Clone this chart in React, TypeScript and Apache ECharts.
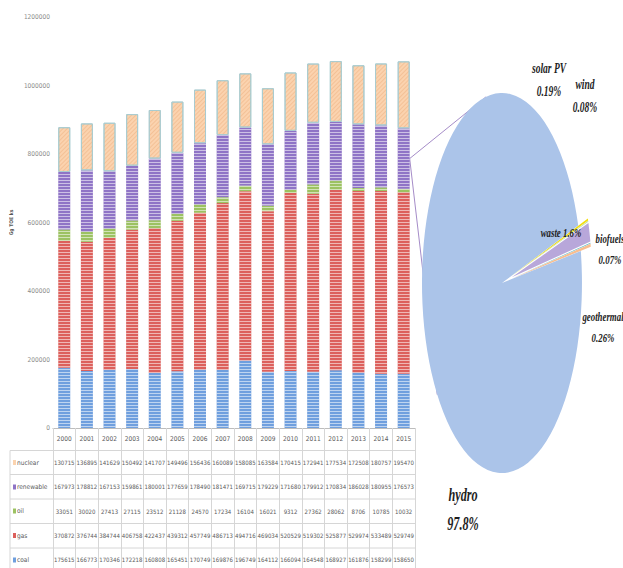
import { useEffect, useRef } from 'react';
import * as echarts from 'echarts';

// Annual primary energy supply by source (stacked bars + data table)
const years = ['2000', '2001', '2002', '2003', '2004', '2005', '2006', '2007', '2008', '2009', '2010', '2011', '2012', '2013', '2014', '2015'];
const nuclear = [130715, 136895, 141629, 150492, 141707, 149496, 156436, 160089, 158085, 163584, 170415, 172941, 177534, 172508, 180757, 195470];
const renewable = [167973, 178812, 167153, 159861, 180001, 177659, 178490, 181471, 169715, 179229, 171680, 179912, 170834, 186028, 180955, 176573];
const oil = [33051, 30020, 27413, 27115, 23512, 21128, 24570, 17234, 16104, 16021, 9312, 27362, 28062, 8706, 10785, 10032];
const gas = [370872, 376744, 384744, 406758, 422437, 439312, 457749, 486713, 494716, 469034, 520529, 519302, 525877, 529974, 533489, 529749];
const coal = [175615, 166773, 170346, 172218, 160808, 165451, 170749, 169876, 196749, 164112, 166094, 164548, 168927, 161876, 158299, 158650];

// Breakdown of the renewable share (%)
const pieNames = ['solar PV', 'wind', 'waste', 'biofuels', 'geothermal', 'hydro'];
const pieShares = [0.19, 0.08, 1.6, 0.07, 0.26, 97.8];

const yTicks = { min: 0, max: 1200000, interval: 200000 };

const COLORS = {
  coal: '#6f9fde',
  gas: '#dc605c',
  oil: '#9cc262',
  renewable: '#8f74c6',
  nuclear: '#fbd3af',
};
const PIE_COLORS = ['#f2de0a', '#c2dc9e', '#b8a7da', '#52b6ca', '#f7bd8f', '#abc4e9'];
const PIE_EXPLODE = [24, 24, 24, 24, 24, 0];

const NARROW = "'Liberation Sans Narrow', 'DejaVu Sans Condensed', sans-serif";

// pie geometry (an ellipse: circle of radius R squeezed horizontally)
const PIE_CX = 502;
const PIE_CY = 283;
const PIE_R = 190;
const PIE_SX = 80 / 190;
const PIE_START_DEG = 17.6;

const GRID = { left: 50, right: 208, top: 17, bottom: 140 };
const TABLE_LEFT = 10;
const ROW_LINES = [450.5, 474.5, 499, 523.5, 548];
const ROW_CENTERS = [462.5, 487, 511, 535.5, 560];

const stripes = {
  symbol: 'rect',
  symbolSize: 1,
  dashArrayX: [1, 0],
  dashArrayY: [1, 2],
  color: 'rgba(255,255,255,0.55)',
  rotation: 0,
};
const hatch = {
  symbol: 'rect',
  symbolSize: 1,
  dashArrayX: [1, 0],
  dashArrayY: [1, 2],
  color: 'rgba(236,170,120,0.45)',
  rotation: -Math.PI / 4,
};

export default function App() {
  const ref = useRef<HTMLDivElement>(null);

  useEffect(() => {
    if (!ref.current) return;
    const chart = echarts.init(ref.current, null, { renderer: 'svg' });

    const barSeries = [
      { name: 'coal', data: coal, color: COLORS.coal, decal: stripes },
      { name: 'gas', data: gas, color: COLORS.gas, decal: stripes },
      { name: 'oil', data: oil, color: COLORS.oil, decal: stripes },
      { name: 'renewable', data: renewable, color: COLORS.renewable, decal: stripes },
      { name: 'nuclear', data: nuclear, color: COLORS.nuclear, decal: hatch },
    ].map((s) => ({
      type: 'bar',
      name: s.name,
      stack: 'total',
      barWidth: 12,
      data: s.data,
      itemStyle: {
        color: s.color,
        decal: s.decal,
        borderColor: s.name === 'nuclear' ? '#a9ccd0' : undefined,
        borderWidth: s.name === 'nuclear' ? 1 : 0,
      },
    }));

    const pieTotal = pieShares.reduce((a, b) => a + b, 0);

    const pieSeries = {
      type: 'custom',
      coordinateSystem: 'none',
      data: pieShares.map((v, i) => [i, v]),
      renderItem: (params: any, api: any) => {
        const i = params.dataIndex;
        const before = pieShares.slice(0, i).reduce((a, b) => a + b, 0);
        const v = api.value(1);
        const a0 = (-PIE_START_DEG * Math.PI) / 180 + (before / pieTotal) * 2 * Math.PI;
        const a1 = a0 + (v / pieTotal) * 2 * Math.PI;
        const mid = (a0 + a1) / 2;
        const d = PIE_EXPLODE[i];
        return {
          type: 'sector',
          shape: {
            cx: PIE_CX + d * Math.cos(mid),
            cy: PIE_CY + d * Math.sin(mid),
            r: PIE_R,
            r0: 0,
            startAngle: a0,
            endAngle: a1,
            clockwise: true,
          },
          originX: PIE_CX,
          originY: PIE_CY,
          scaleX: PIE_SX,
          style: { fill: PIE_COLORS[i] },
        };
      },
    };

    const tableRows = [
      { name: 'nuclear', color: COLORS.nuclear },
      { name: 'renewable', color: COLORS.renewable },
      { name: 'oil', color: COLORS.oil },
      { name: 'gas', color: COLORS.gas },
      { name: 'coal', color: COLORS.coal },
    ];

    chart.setOption({
      animation: false,
      backgroundColor: '#ffffff',
      grid: GRID,
      xAxis: {
        type: 'category',
        data: years,
        boundaryGap: true,
        axisLine: { lineStyle: { color: '#bdbdbd', width: 1 } },
        axisTick: { show: true, length: 140, lineStyle: { color: '#d6d6d6' } },
        axisLabel: {
          interval: 0,
          margin: 0,
          fontFamily: NARROW,
          color: '#5a5a5a',
          formatter: (val: string, idx: number) =>
            [
              `{y|${val}}`,
              `{v|${nuclear[idx]}}`,
              `{v|${renewable[idx]}}`,
              `{v|${oil[idx]}}`,
              `{v|${gas[idx]}}`,
              `{v|${coal[idx]}}`,
            ].join('\n'),
          rich: {
            y: { fontSize: 6.5, lineHeight: 22, fontFamily: NARROW, color: '#5a5a5a' },
            v: { fontSize: 6, lineHeight: 24.4, fontFamily: NARROW, color: '#5a5a5a' },
          },
        },
      },
      yAxis: {
        type: 'value',
        min: yTicks.min,
        max: yTicks.max,
        interval: yTicks.interval,
        name: 'Gg TOE ks',
        nameLocation: 'middle',
        nameGap: 39,
        nameTextStyle: { fontSize: 5, fontWeight: 'bold', color: '#555', fontFamily: NARROW },
        axisLine: { show: false },
        axisTick: { show: false },
        splitLine: { show: false },
        axisLabel: {
          fontSize: 6.5,
          color: '#8a8a8a',
          fontFamily: NARROW,
          margin: 3,
          formatter: (v: number) => String(v),
        },
      },
      series: [...barSeries, pieSeries],
    });

    // connectors from the 2015 renewable segment to the pie
    const last = years.length - 1;
    const renewMid = coal[last] + gas[last] + oil[last] + renewable[last] / 2;
    const p = chart.convertToPixel({ xAxisIndex: 0, yAxisIndex: 0 }, [last, renewMid]) as number[];
    const sx = p[0] + 6;
    const sy = p[1];
    const ellipsePt = (deg: number) => [
      PIE_CX + PIE_R * PIE_SX * Math.cos((deg * Math.PI) / 180),
      PIE_CY - PIE_R * Math.sin((deg * Math.PI) / 180),
    ];
    const up = ellipsePt(101.5);
    const down = ellipsePt(216);

    const gridRight = 623 - GRID.right;
    const graphics: any[] = [];
    ROW_LINES.forEach((y) =>
      graphics.push({
        type: 'line',
        shape: { x1: TABLE_LEFT, y1: y, x2: gridRight, y2: y },
        style: { stroke: '#d6d6d6', lineWidth: 1 },
        silent: true,
      })
    );
    graphics.push({
      type: 'line',
      shape: { x1: TABLE_LEFT, y1: ROW_LINES[0], x2: TABLE_LEFT, y2: 568 },
      style: { stroke: '#d6d6d6', lineWidth: 1 },
    });
    tableRows.forEach((r, i) => {
      graphics.push({
        type: 'rect',
        shape: { x: 13, y: ROW_CENTERS[i] - 2.5, width: 3, height: 5 },
        style: { fill: r.color },
      });
      graphics.push({
        type: 'text',
        x: 17,
        y: ROW_CENTERS[i],
        style: {
          text: r.name,
          font: `6.5px ${NARROW}`,
          fill: '#5a5a5a',
          textAlign: 'left',
          textVerticalAlign: 'middle',
        },
      });
    });
    [up, down].forEach((q) =>
      graphics.push({
        type: 'line',
        shape: { x1: sx, y1: sy, x2: q[0], y2: q[1] },
        style: { stroke: '#a58cc8', lineWidth: 1 },
      })
    );

    const pieLabel = (text: string, x: number, y: number, size: number) => ({
      type: 'text',
      x,
      y,
      scaleX: 0.68,
      z: 10,
      style: {
        text,
        font: `italic bold ${size}px 'Liberation Serif', serif`,
        fill: '#1e1e1e',
        textAlign: 'center',
        textVerticalAlign: 'middle',
        lineHeight: size * 1.6,
      },
    });
    const pct = (i: number) => `${pieShares[i]}%`;
    graphics.push(pieLabel(`${pieNames[0]}\n${pct(0)}`, 549, 80, 14));
    graphics.push(pieLabel(`${pieNames[1]}\n${pct(1)}`, 585, 96, 14));
    graphics.push(pieLabel(`${pieNames[2]} ${pct(2)}`, 561, 232, 13));
    graphics.push(pieLabel(`${pieNames[3]}\n${pct(3)}`, 610, 249, 13));
    graphics.push(pieLabel(`${pieNames[4]}\n${pct(4)}`, 603, 327, 13));
    graphics.push(pieLabel(`${pieNames[5]}\n${pct(5)}`, 463, 509, 18));

    chart.setOption({ graphic: graphics });

    return () => chart.dispose();
  }, []);

  return (
    <div
      ref={ref}
      style={{ position: 'absolute', left: 0, top: 0, width: 623, height: 568, background: '#fff' }}
    />
  );
}
